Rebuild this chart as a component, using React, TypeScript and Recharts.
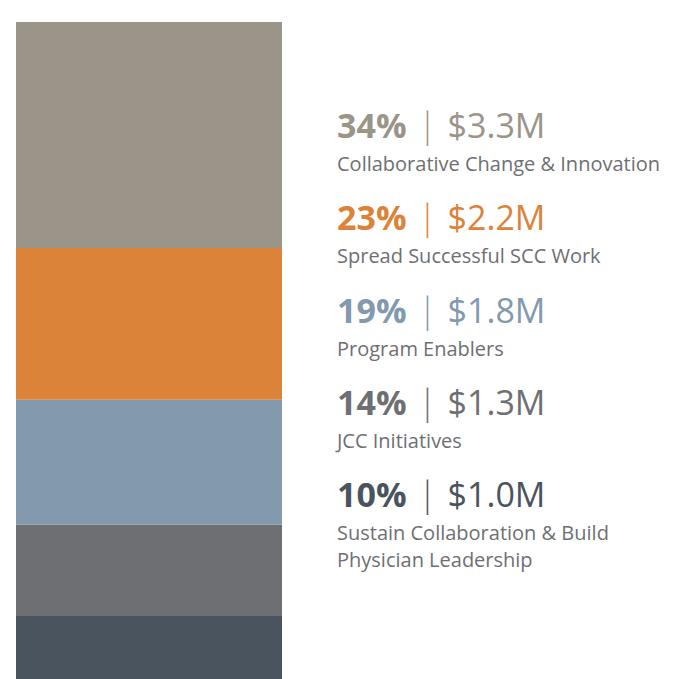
import { Bar, BarChart, Customized, XAxis, YAxis } from "recharts";

const CATEGORIES = [
  "Collaborative Change & Innovation",
  "Spread Successful SCC Work",
  "Program Enablers",
  "JCC Initiatives",
  "Sustain Collaboration & Build\nPhysician Leadership",
];
const PERCENT_LABELS = [34, 23, 19, 14, 10];
const AMOUNTS = ["$3.3M", "$2.2M", "$1.8M", "$1.3M", "$1.0M"];
// segment shares as drawn (slightly unrounded)
const SHARES = [34.4, 23.1, 19.0, 13.9, 9.6];
const COLORS = ["#9b9488", "#dc833a", "#8299ae", "#6e6f73", "#4a545e"];

const FONT = "'Open Sans', 'Noto Sans', sans-serif";
const SUB = "#6e6f73";

// one row, one key per segment
const row: Record<string, number | string> = { name: "budget" };
SHARES.forEach((p, i) => {
  row[`s${i}`] = p;
});
const data = [row];

// bottom of the stack is the last item in the list
const stackOrder = SHARES.map((_, i) => SHARES.length - 1 - i);

function Labels() {
  const x = 337;
  const step = 92.3;
  return (
    <g fontFamily={FONT}>
      {CATEGORIES.map((c, i) => {
        const y = 138 + i * step;
        const lines = c.split("\n");
        return (
          <g key={c}>
            <text x={x} y={y} fill={COLORS[i]} fontSize={34}>
              <tspan fontWeight={700}>{PERCENT_LABELS[i]}%</tspan>
              <tspan fontWeight={300} dx={3}>{"  |  "}</tspan>
              <tspan fontWeight={400} dx={2}>{AMOUNTS[i]}</tspan>
            </text>
            {lines.map((l, j) => (
              <text key={l} x={x} y={y + 33 + j * 27} fill={SUB} fontSize={20}>
                {l}
              </text>
            ))}
          </g>
        );
      })}
    </g>
  );
}

export default function App() {
  return (
    <div style={{ width: 688, height: 679 }}>
      <style>{`body{margin:0}`}</style>
      <BarChart
        width={688}
        height={679}
        data={data}
        margin={{ top: 22, right: 406, bottom: 0, left: 16 }}
        barCategoryGap={0}
      >
        <XAxis dataKey="name" hide />
        <YAxis hide domain={[0, 100]} />
        {stackOrder.map((i) => (
          <Bar key={i} dataKey={`s${i}`} stackId="a" fill={COLORS[i]} isAnimationActive={false} />
        ))}
        <Customized component={Labels} />
      </BarChart>
    </div>
  );
}
